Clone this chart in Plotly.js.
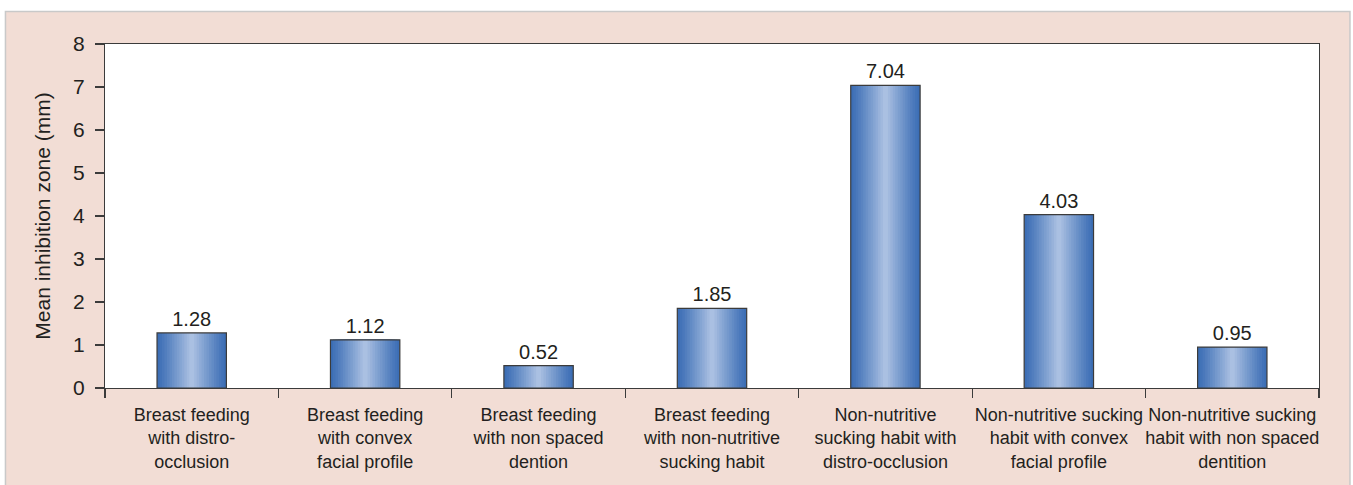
<!DOCTYPE html>
<html>
<head>
<meta charset="utf-8">
<script src="https://cdn.plot.ly/plotly-3.0.1.min.js"></script>
<style>html,body{margin:0;padding:0;background:#fff;}#chart{width:1353px;height:485px;}</style>
</head>
<body>
<div id="chart"></div>
<script>
const categories = [
  "Breast feeding<br>with distro-<br>occlusion",
  "Breast feeding<br>with convex<br>facial profile",
  "Breast feeding<br>with non spaced<br>dention",
  "Breast feeding<br>with non-nutritive<br>sucking habit",
  "Non-nutritive<br>sucking habit with<br>distro-occlusion",
  "Non-nutritive sucking<br>habit with convex<br>facial profile",
  "Non-nutritive sucking<br>habit with non spaced<br>dentition"
];
const meanInhibition = [1.28, 1.12, 0.52, 1.85, 7.04, 4.03, 0.95];
const valueLabels = ["1.28", "1.12", "0.52", "1.85", "7.04", "4.03", "0.95"];
const yTicks = [0, 1, 2, 3, 4, 5, 6, 7, 8];

const FONT = "Liberation Sans, Arial, sans-serif";
const TXT = "#231f20";
const BAR_W = 0.4;
const STEPS = 14;
const dark = [60, 110, 181];
const light = [170, 192, 226];

const traces = [];
for (let i = 0; i < STEPS; i++) {
  const f = i / (STEPS - 1);
  const c = dark.map((d, k) => Math.round(d + (light[k] - d) * Math.pow(f, 1.1)));
  traces.push({
    type: "bar",
    x: categories,
    y: meanInhibition,
    width: BAR_W * (1 - i / STEPS),
    marker: {color: "rgb(" + c.join(",") + ")", line: {width: 0}},
    hoverinfo: "skip",
    showlegend: false
  });
}
traces.push({
  type: "bar",
  x: categories,
  y: meanInhibition,
  width: BAR_W,
  marker: {color: "rgba(0,0,0,0)", line: {color: "#3b3b3b", width: 1.2}},
  text: valueLabels,
  textposition: "outside",
  cliponaxis: false,
  textfont: {family: FONT, size: 20, color: TXT},
  showlegend: false
});

const layout = {
  width: 1353,
  height: 485,
  margin: {l: 105, r: 34, t: 44, b: 97},
  paper_bgcolor: "#ffffff",
  plot_bgcolor: "#ffffff",
  barmode: "overlay",
  font: {family: FONT, color: TXT},
  shapes: [
    {type: "rect", xref: "paper", yref: "paper", x0: -0.082, x1: 1.0255, y0: -0.30, y1: 1.0945,
     fillcolor: "#f2ddd5", line: {color: "#c9c9c9", width: 1.5}, layer: "below"},
    {type: "rect", xref: "paper", yref: "paper", x0: 0, x1: 1, y0: 0, y1: 1,
     fillcolor: "#ffffff", line: {width: 0}, layer: "below"}
  ],
  xaxis: {
    type: "category",
    showline: true, mirror: true, linecolor: "#3b3b3b", linewidth: 1.2,
    ticks: "outside", ticklen: 9, tickcolor: "#3b3b3b", tickwidth: 1.2,
    tickson: "boundaries",
    tickangle: 0,
    ticklabelstandoff: 10,
    automargin: false,
    showgrid: false, zeroline: false,
    tickfont: {family: FONT, size: 18, color: TXT},
    fixedrange: true
  },
  yaxis: {
    range: [0, 8],
    tickvals: yTicks,
    ticktext: yTicks.map(String),
    showline: true, mirror: true, linecolor: "#3b3b3b", linewidth: 1.2,
    ticks: "outside", ticklen: 9, tickcolor: "#3b3b3b", tickwidth: 1.2,
    ticklabelstandoff: 6,
    automargin: false,
    showgrid: false, zeroline: false,
    tickfont: {family: FONT, size: 21, color: TXT},
    title: {text: "Mean inhibition zone (mm)", font: {family: FONT, size: 21, color: TXT}, standoff: 16},
    fixedrange: true
  }
};

Plotly.newPlot("chart", traces, layout, {displayModeBar: false, staticPlot: true});
</script>
</body>
</html>
